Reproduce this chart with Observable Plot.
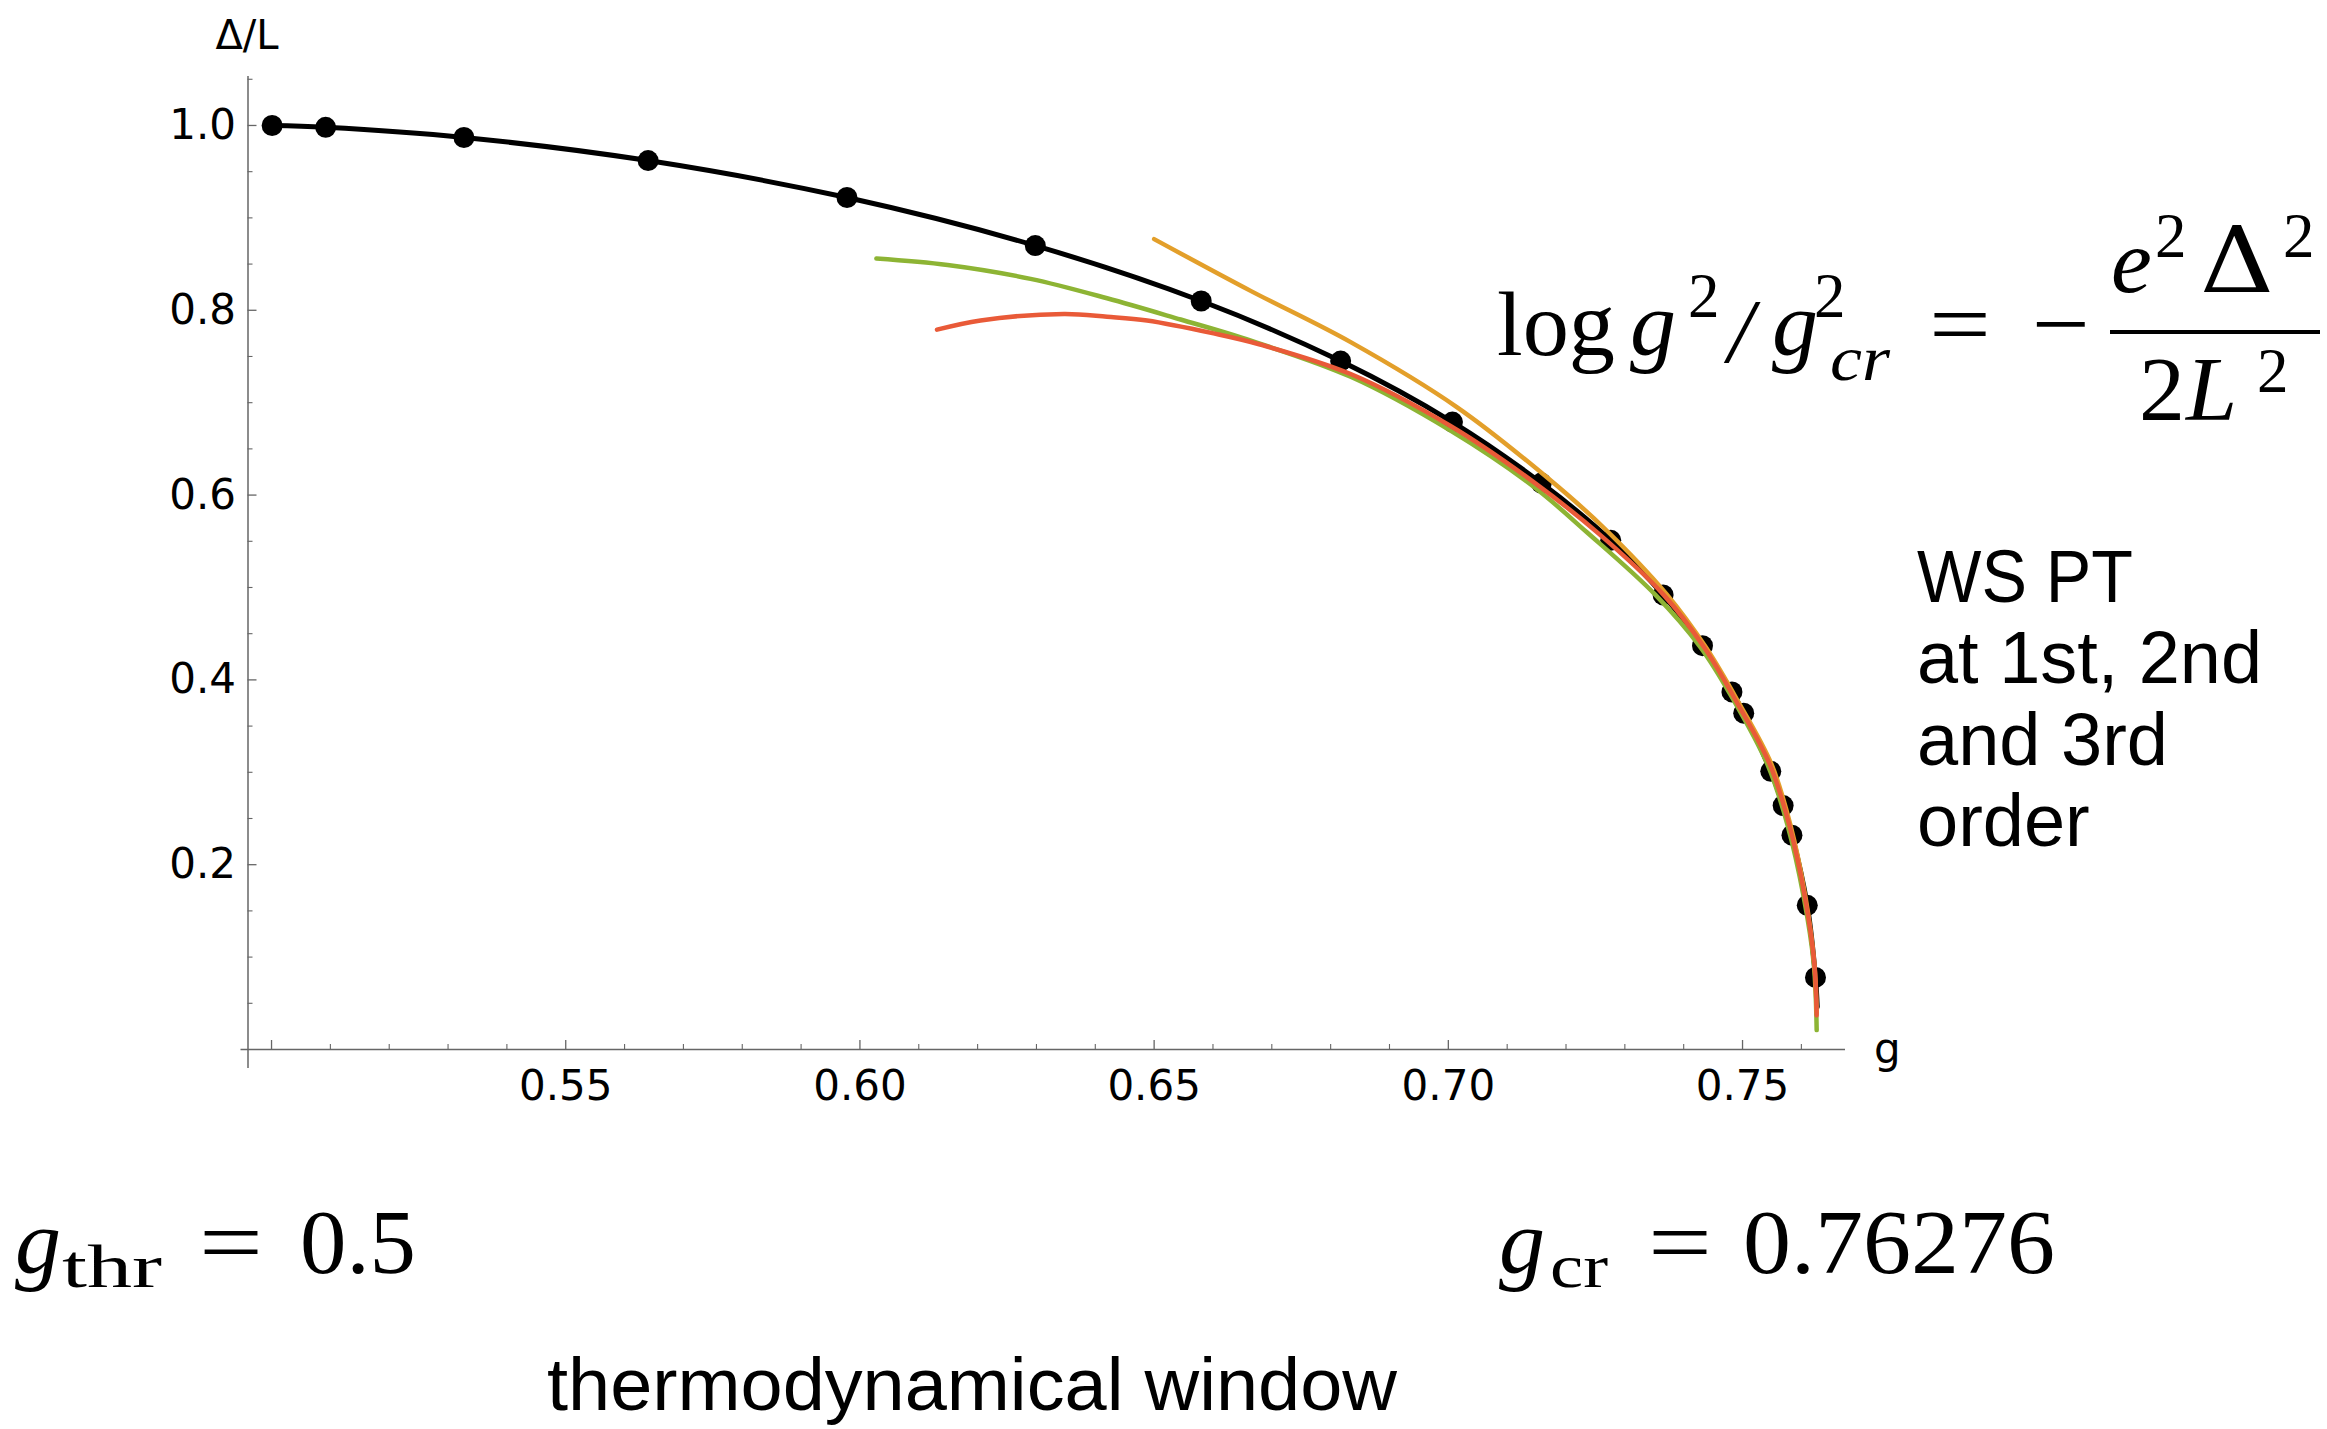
<!DOCTYPE html>
<html>
<head>
<meta charset="utf-8">
<script src="https://cdn.jsdelivr.net/npm/d3@7"></script>
<script src="https://cdn.jsdelivr.net/npm/@observablehq/plot@0.6"></script>
<style>
  html, body { margin: 0; padding: 0; background: #fff; }
  #chart { width: 2327px; height: 1429px; overflow: hidden; }
</style>
</head>
<body>
<div id="chart"></div>
<script>
// ---- data (g, Δ/L) ----
const points = [
  [0.5001, 1.000], [0.5092, 0.998], [0.5327, 0.987], [0.5640, 0.962],
  [0.5978, 0.922], [0.6298, 0.870], [0.6580, 0.810], [0.6817, 0.745],
  [0.7007, 0.679], [0.7158, 0.613], [0.7276, 0.551], [0.7365, 0.492],
  [0.7432, 0.437], [0.7482, 0.387], [0.7502, 0.364], [0.7548, 0.301],
  [0.7569, 0.264], [0.7584, 0.232], [0.7610, 0.156], [0.7624, 0.078]
];
const blackLineEnd = [[0.7627, 0.046]];

const greenCurve = [
  [0.6028, 0.856], [0.6149, 0.849], [0.6290, 0.834], [0.6420, 0.813],
  [0.6545, 0.790], [0.6650, 0.770], [0.6834, 0.728], [0.7003, 0.670],
  [0.7145, 0.609], [0.7235, 0.560], [0.7352, 0.492], [0.7429, 0.435],
  [0.7485, 0.378], [0.7542, 0.309], [0.7576, 0.244], [0.7604, 0.165],
  [0.7621, 0.093], [0.7626, 0.021]
];
const orangeCurve = [
  [0.6500, 0.877], [0.6664, 0.821], [0.6834, 0.7655], [0.7015, 0.695],
  [0.7168, 0.619], [0.7262, 0.566], [0.7372, 0.492], [0.7438, 0.435],
  [0.7493, 0.376], [0.7549, 0.309], [0.7581, 0.244], [0.7607, 0.165],
  [0.7622, 0.093], [0.7626, 0.040]
];
const redCurve = [
  [0.6131, 0.779], [0.6205, 0.789], [0.6347, 0.796], [0.6420, 0.793],
  [0.6488, 0.789], [0.6601, 0.775], [0.6680, 0.763], [0.6834, 0.731],
  [0.7003, 0.675], [0.7145, 0.614], [0.7256, 0.558], [0.7366, 0.492],
  [0.7435, 0.435], [0.7490, 0.376], [0.7546, 0.309], [0.7579, 0.244],
  [0.7606, 0.165], [0.7622, 0.093], [0.7626, 0.037]
];

const xMajorTicks = [0.50, 0.55, 0.60, 0.65, 0.70, 0.75];
const xMinorTicks = [0.51, 0.52, 0.53, 0.54, 0.56, 0.57, 0.58, 0.59,
                     0.61, 0.62, 0.63, 0.64, 0.66, 0.67, 0.68, 0.69,
                     0.71, 0.72, 0.73, 0.74, 0.76];
const xTickLabels = [0.55, 0.60, 0.65, 0.70, 0.75];
const yMajorTicks = [0.2, 0.4, 0.6, 0.8, 1.0];
const yMinorTicks = [0.05, 0.10, 0.15, 0.25, 0.30, 0.35, 0.45, 0.50, 0.55,
                     0.65, 0.70, 0.75, 0.85, 0.90, 0.95, 1.05];
const yTickLabels = [0.2, 0.4, 0.6, 0.8, 1.0];

const xDomain = [0.496, 0.7675];
const yDomain = [0, 1.053];

// ---- layout ----
const W = 2327, H = 1429;
const mL = 247.5, mR = 482, mT = 76, mB = 380;
const frameW = W - mL - mR, frameH = H - mT - mB;
const axisColor = "#666";

const chart = Plot.plot({
  width: W, height: H,
  marginLeft: mL, marginRight: mR, marginTop: mT, marginBottom: mB,
  x: {domain: xDomain},
  y: {domain: yDomain},
  style: {background: "white", fontFamily: "DejaVu Sans"},
  marks: [
    Plot.ruleY([0], {stroke: axisColor, strokeWidth: 1.5, insetLeft: -7}),
    Plot.ruleX([xDomain[0]], {stroke: axisColor, strokeWidth: 1.5, insetBottom: -19}),
    Plot.ruleX(xMajorTicks, {stroke: axisColor, strokeWidth: 1.3, insetTop: frameH - 9}),
    Plot.ruleX(xMinorTicks, {stroke: axisColor, strokeWidth: 1.1, insetTop: frameH - 5}),
    Plot.ruleY(yMajorTicks, {stroke: axisColor, strokeWidth: 1.3, insetRight: frameW - 9}),
    Plot.ruleY(yMinorTicks, {stroke: axisColor, strokeWidth: 1.1, insetRight: frameW - 5}),
    Plot.axisX(xTickLabels, {tickSize: 0, tickPadding: 21, tickFormat: d3.format(".2f"),
      fontSize: 42, label: null, fill: "black"}),
    Plot.axisY(yTickLabels, {tickSize: 0, tickPadding: 12, tickFormat: d3.format(".1f"),
      fontSize: 42, label: null, fill: "black"}),
    Plot.line(points.concat(blackLineEnd), {x: d => d[0], y: d => d[1], stroke: "black",
      strokeWidth: 5, curve: "catmull-rom"}),
    Plot.dot(points, {x: d => d[0], y: d => d[1], r: 10.5, fill: "black"}),
    Plot.line(greenCurve, {x: d => d[0], y: d => d[1], stroke: "#8DB434", strokeWidth: 4.5, curve: "catmull-rom"}),
    Plot.line(orangeCurve, {x: d => d[0], y: d => d[1], stroke: "#E39F2A", strokeWidth: 4.5, curve: "catmull-rom"}),
    Plot.line(redCurve, {x: d => d[0], y: d => d[1], stroke: "#E95A38", strokeWidth: 4.5, curve: "catmull-rom"})
  ]
});

document.getElementById("chart").appendChild(chart);

// ---- annotations ----
const svg = d3.select(chart);
const ann = svg.append("g");
const serif = "Liberation Serif";
const sans = "Liberation Sans";
function put(x, y, s, size, o = {}) {
  const t = ann.append("text")
    .attr("x", x).attr("y", y)
    .attr("font-size", size)
    .attr("font-family", o.family || serif)
    .attr("font-style", o.italic ? "italic" : "normal")
    .attr("text-anchor", o.anchor || "start")
    .attr("fill", "black")
    .text(s);
  if (o.len) t.attr("textLength", o.len).attr("lengthAdjust", "spacingAndGlyphs");
  return t;
}

// axis labels
put(247, 49, "Δ/L", 40, {family: "DejaVu Sans", anchor: "middle"});
put(1874, 1063, "g", 42, {family: "DejaVu Sans"});

// formula: log g^2/g_cr^2 = - e^2 Δ^2 / (2 L^2)
put(1497, 355, "log", 92, {len: 118});
put(1630, 355, "g", 92, {italic: true});
put(1688, 317, "2", 63);
put(1728, 362, "/", 92, {italic: true});
put(1772, 355, "g", 92, {italic: true});
put(1814, 317, "2", 63);
put(1830, 380, "cr", 63, {italic: true, len: 60});
put(1929, 355, "=", 92, {len: 62});
put(2032, 355, "\u2212", 92, {len: 58});
ann.append("line").attr("x1", 2110).attr("x2", 2320).attr("y1", 332).attr("y2", 332)
  .attr("stroke", "black").attr("stroke-width", 4);
put(2111, 292, "e", 92, {italic: true});
put(2155, 257, "2", 63);
put(2200, 292, "\u0394", 92, {len: 74, family: "DejaVu Serif"});
put(2283, 257, "2", 63);
put(2139, 420, "2", 92);
put(2186, 420, "L", 92, {italic: true});
put(2257, 392, "2", 63);

// WS PT text block
put(1917, 602, "WS PT", 74, {family: sans, len: 216});
put(1917, 683, "at 1st, 2nd", 74, {family: sans, len: 345});
put(1917, 765, "and 3rd", 74, {family: sans});
put(1917, 846, "order", 74, {family: sans});

// g_thr = 0.5
put(15, 1273, "g", 92, {italic: true});
put(62, 1287, "thr", 62, {len: 100});
put(199, 1273, "=", 92, {len: 64});
put(300, 1273, "0.5", 92, {len: 116});

// g_cr = 0.76276
put(1499, 1273, "g", 92, {italic: true});
put(1550, 1287, "cr", 62, {len: 58});
put(1648, 1273, "=", 92, {len: 64});
put(1743, 1273, "0.76276", 92, {len: 312});

// caption
put(547, 1410, "thermodynamical window", 75, {family: sans, len: 850});
</script>
</body>
</html>
